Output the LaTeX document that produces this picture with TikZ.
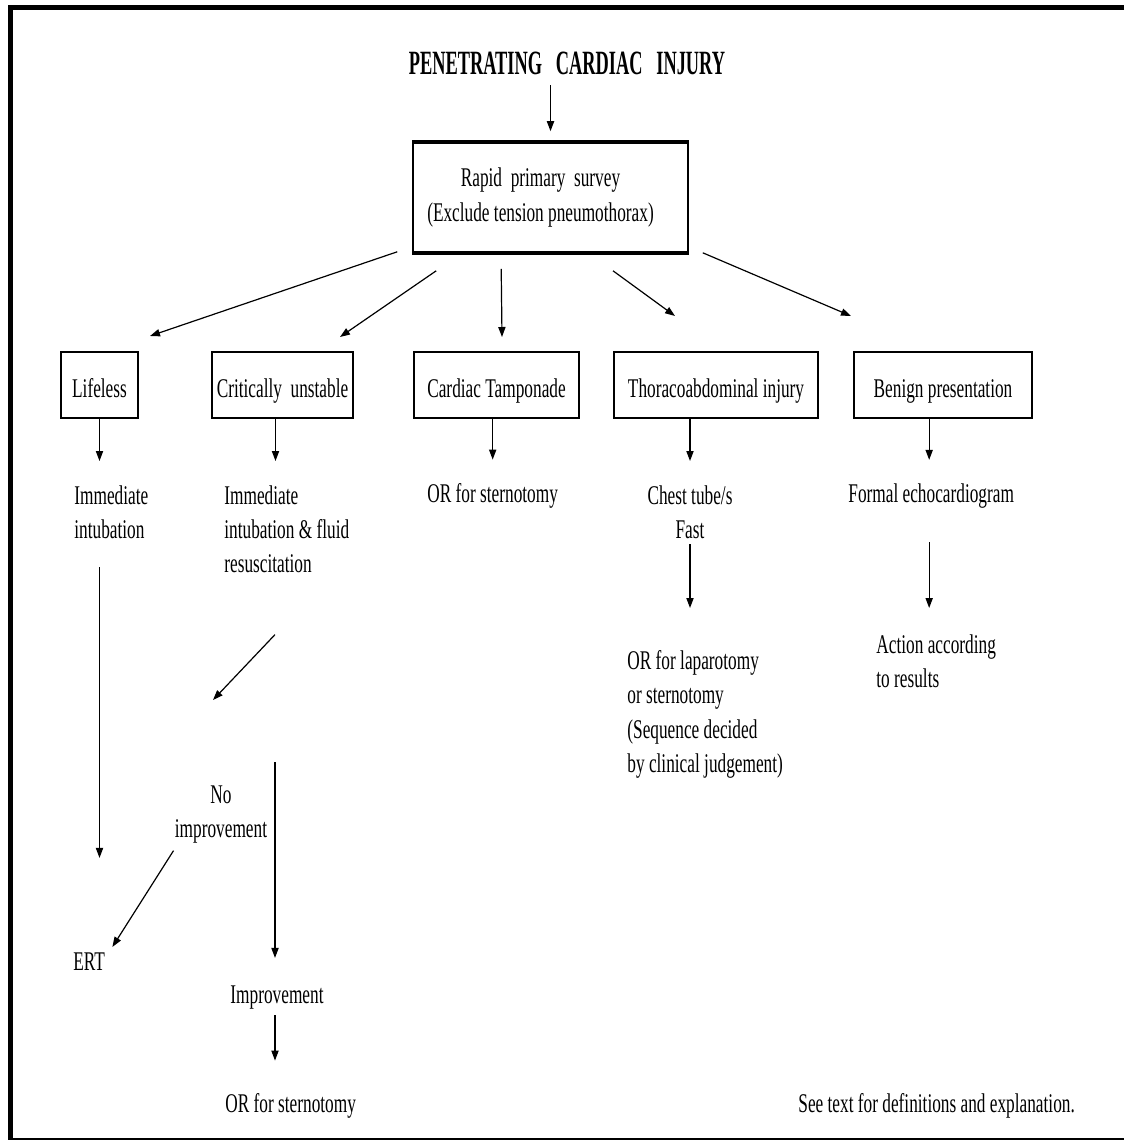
\documentclass[tikz,border=0pt]{standalone}
\usepackage{fontspec}
\setmainfont{Liberation Serif}[FakeStretch=0.64]
\newfontfamily\headfont{Liberation Serif}[FakeStretch=0.54]
\usepackage{tikz}
\usetikzlibrary{arrows.meta}
\usetikzlibrary{calc}
\usetikzlibrary{positioning}
\newcommand{\txtsize}{\fontsize{13.5}{17.2}\selectfont}

\begin{document}
\begin{tikzpicture}[x=0.5pt,y=-0.5pt,line join=miter,
  >={Triangle[length=5pt,width=3.6pt]},
  arr/.style={->,line width=0.6pt},
  box/.style={draw,line width=1pt,minimum height=33pt,inner sep=0pt,text height=12pt,text depth=0pt,font=\txtsize},
  txt/.style={inner sep=0pt,font=\txtsize,align=left}]
\useasboundingbox (0,0) rectangle (1124,1140);
\draw[line width=2.5pt] (1124,7.5) -- (10.5,7.5) -- (10.5,1140);
\draw[line width=0.8pt] (10.5,1138.8) -- (1124,1138.8);

\node[anchor=base,inner sep=0pt,text depth=0pt,font={\fontsize{17}{20}\headfont\bfseries}] (title) at (567,74) {PENETRATING~~~CARDIAC~~~INJURY};
\node[draw,line width=0.8pt,minimum width=137.5pt,minimum height=54.5pt,align=center,font=\txtsize] (survey) at (550.5,197.5) {Rapid~~primary~~survey\hspace*{10pt}\\(Exclude tension pneumothorax)\hspace*{10pt}};
\draw[line width=1.8pt] (survey.north west) -- (survey.north east);
\draw[line width=1.8pt] (survey.south west) -- (survey.south east);

\node[box,minimum width=38.5pt] (lifeless) at (99.5,385) {Lifeless};
\node[box,minimum width=70.5pt] (critical) at (282.5,385) {Critically~~unstable};
\node[box,minimum width=82.5pt] (tamponade) at (496.5,385) {Cardiac Tamponade};
\node[box,minimum width=102pt] (thoraco) at (716,385) {Thoracoabdominal injury};
\node[box,minimum width=89pt] (benign) at (943,385) {Benign presentation};

\node[txt,anchor=north west] (immA) at (74,485) {Immediate\\intubation};
\node[txt,anchor=north west] (immB) at (224,485) {Immediate\\intubation \& fluid\\resuscitation};
\node[txt,anchor=base west] (orA) at (427,502) {OR for sternotomy};
\node[txt,anchor=north,align=center] (chest) at (690,485) {Chest tube/s\\Fast};
\node[txt,anchor=base west] (echo) at (848,502) {Formal echocardiogram};
\node[txt,anchor=north west] (orC) at (627,650) {OR for laparotomy\\or sternotomy\\(Sequence decided\\by clinical judgement)};
\node[txt,anchor=north west] (action) at (876,634) {Action according\\to results};
\node[txt,anchor=north,align=center] (noimp) at (221,785) {No\\improvement};
\node[txt,anchor=base west] (ert) at (73,970) {ERT};
\node[txt,anchor=base] (improve) at (277,1003) {Improvement};
\node[txt,anchor=base west] (orB) at (225,1112) {OR for sternotomy};
\node[txt,anchor=base west] (note) at (798,1112) {See text for definitions and explanation.};

\draw[arr] ($(survey.north |- title.south)+(0,11)$) -- ($(survey.north)+(0,-11)$);
\draw[arr] ($(survey.south west)+(-15,-1)$) -- ($(lifeless.north)+(50.5,-15)$);
\draw[arr] ($(survey.south west)+(24,18)$) -- ($(critical.north)+(57.5,-14)$);
\draw[arr] ($(survey.south west)+(89,16)$) -- ($(tamponade.north)+(5.5,-14)$);
\draw[arr] ($(survey.south)+(62.5,18)$) -- ($(thoraco.north)+(-41,-35)$);
\draw[arr] ($(survey.south east)+(14,0)$) -- ($(benign.north)+(-92,-35)$);

\draw[arr] (lifeless.south) -- ($(lifeless.south |- immA.north)+(0,-24)$);
\draw[arr] ($(critical.south)+(-7,0)$) -- ($(critical.south |- immB.north)+(-7,-24)$);
\draw[arr] (tamponade.south -| orA.north) -- ($(orA.north)+(0,-23)$);
\draw[arr] (thoraco.south -| chest.north) -- ($(chest.north)+(0,-24)$);
\draw[arr] ($(benign.south -| echo.north)+(-2,0)$) -- ($(echo.north)+(-2,-23)$);

\draw[arr] ($(lifeless.south |- immA.south)+(0,28)$) -- ($(lifeless.south |- ert.north)+(0,-94)$);
\draw[arr] ($(immB.south west)+(51,61)$) -- ($(noimp.north)+(-8,-85)$);
\draw[arr] ($(improve.north |- noimp.north)+(-2,-23)$) -- ($(improve.north)+(-2,-27)$);
\draw[arr] ($(noimp.south west)+(-1,7)$) -- ($(ert.north east)+(7,-5)$);
\draw[arr] ($(improve.south)+(-2,6)$) -- ($(improve.south |- orB.north)+(-2,-32)$);
\draw[arr] ($(chest.south)+(0,5)$) -- ($(chest.south |- orC.north)+(0,-42)$);
\draw[arr] ($(echo.south)+(-2,34)$) -- ($(echo.south |- action.north)+(-2,-26)$);
\end{tikzpicture}
\end{document}
